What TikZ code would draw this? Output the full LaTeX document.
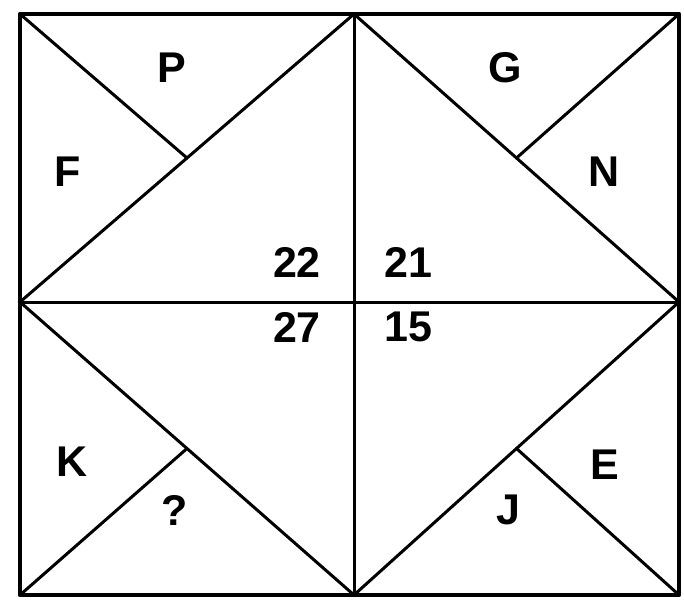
\documentclass[tikz,border=0pt]{standalone}
\usepackage{fontspec}
\setmainfont{Liberation Sans}
\usetikzlibrary{calc}

\begin{document}
\begin{tikzpicture}[
  x=1pt, y=-1pt,
  every node/.style={font=\fontsize{43}{45}\selectfont\bfseries},
  frame/.style={line width=4.5pt, line cap=round, line join=round},
  cut/.style={line width=3pt, line cap=round}
]
  \useasboundingbox (0,0) rectangle (684,601);
  % grid points
  \coordinate (tl) at (20,14);  \coordinate (tc) at (354,14);  \coordinate (tr) at (679,14);
  \coordinate (ml) at (20,302); \coordinate (c)  at (354,302); \coordinate (mr) at (679,302);
  \coordinate (bl) at (20,595); \coordinate (bc) at (354,595); \coordinate (br) at (679,595);
  \coordinate (q1) at ($(ml)!0.5!(tc)$);
  \coordinate (q2) at ($(tc)!0.5!(mr)$);
  \coordinate (q3) at ($(ml)!0.5!(bc)$);
  \coordinate (q4) at ($(bc)!0.5!(mr)$);

  \draw[frame] (tl) rectangle (br);
  \draw[cut] (tc) -- (bc);
  \draw[cut] (ml) -- (mr);
  \draw[cut] (ml) -- (tc) -- (mr) -- (bc) -- cycle;
  \draw[cut] (tl) -- (q1);
  \draw[cut] (tr) -- (q2);
  \draw[cut] (bl) -- (q3);
  \draw[cut] (br) -- (q4);

  \node (p)  at (172,68)  {P};
  \node (f)  at (68,172)  {F};
  \node (g)  at (505,68)  {G};
  \node (n)  at (604,172) {N};
  \node (a1) at (297,262) {22};
  \node (a2) at (408,262) {21};
  \node (a3) at (297,327) {27};
  \node (a4) at (408,327) {15};
  \node (k)  at (72,462)  {K};
  \node (qm) at (175,510) {?};
  \node (e)  at (605,465) {E};
  \node (j)  at (508,510) {J};
\end{tikzpicture}
\end{document}
